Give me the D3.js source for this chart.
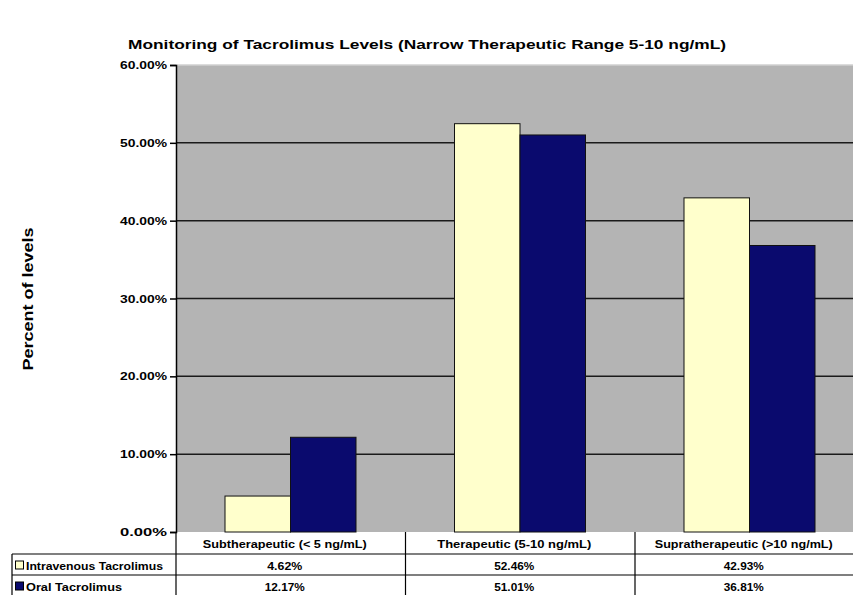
<!DOCTYPE html>
<html>
<head>
<meta charset="utf-8">
<script src="https://cdn.jsdelivr.net/npm/d3@7"></script>
<style>
  body { margin: 0; background: #fff; }
  text { font-family: Arial, "Liberation Sans", sans-serif; font-weight: bold; fill: #000; }
</style>
</head>
<body>
<div id="chart"></div>
<script>
// Data
const categories = ["Subtherapeutic (< 5 ng/mL)", "Therapeutic (5-10 ng/mL)", "Supratherapeutic (>10 ng/mL)"];
const seriesNames = ["Intravenous Tacrolimus", "Oral Tacrolimus"];
const ivValues = [4.62, 52.46, 42.93];
const oralValues = [12.17, 51.01, 36.81];
const yTicks = [0, 10, 20, 30, 40, 50, 60];
const colors = ["#ffffcc", "#0a0a6e"];

const width = 853, height = 595;
const margin = {top: 65, left: 176, bottom: 532};

const svg = d3.select("#chart").append("svg")
    .attr("width", width)
    .attr("height", height);

// Scales
const x = d3.scaleBand()
    .domain(categories)
    .range([176, 864.5])
    .paddingInner(0)
    .paddingOuter(0);

const y = d3.scaleLinear()
    .domain([0, 60])
    .range([532, 65]);

const plotRight = 864.5;

// Plot background
svg.append("rect")
    .attr("x", margin.left)
    .attr("y", y(60))
    .attr("width", plotRight - margin.left)
    .attr("height", y(0) - y(60))
    .attr("fill", "#b4b4b4");

svg.append("line")
    .attr("x1", margin.left).attr("x2", plotRight)
    .attr("y1", y(60)).attr("y2", y(60))
    .attr("stroke", "#d0d0d0").attr("stroke-width", 1.5);

// Gridlines
svg.append("g")
    .selectAll("line")
    .data(yTicks.filter(d => d > 0 && d < 60))
    .enter()
    .append("line")
    .attr("x1", margin.left).attr("x2", plotRight)
    .attr("y1", d => y(d)).attr("y2", d => y(d))
    .attr("stroke", "#1a1a1a")
    .attr("stroke-width", 1.5);

// Y axis
const yAxis = svg.append("g")
    .attr("transform", `translate(${margin.left},0)`)
    .call(d3.axisLeft(y).tickValues(yTicks).tickSize(6).tickPadding(3)
        .tickFormat(d => d.toFixed(2) + "%"));
yAxis.select(".domain").attr("stroke", "#000").attr("stroke-width", 1.5);
yAxis.selectAll(".tick line").attr("stroke", "#000").attr("stroke-width", 1.5);
yAxis.selectAll(".tick text")
    .style("font-size", "11px")
    .attr("textLength", 47)
    .attr("lengthAdjust", "spacingAndGlyphs");

// Bars
const barW = 65.5;
const groups = svg.append("g")
    .selectAll("g")
    .data(categories.map((c, i) => ({cat: c, vals: [ivValues[i], oralValues[i]]})))
    .enter()
    .append("g")
    .attr("transform", d => `translate(${x(d.cat) + 49},0)`);

groups.selectAll("rect")
    .data(d => d.vals)
    .enter()
    .append("rect")
    .attr("x", (d, i) => i * barW)
    .attr("y", d => y(d))
    .attr("width", barW)
    .attr("height", d => y(0) - y(d))
    .attr("fill", (d, i) => colors[i])
    .attr("stroke", "#111")
    .attr("stroke-width", 1);

// Title
svg.append("text")
    .attr("x", 427)
    .attr("y", 49)
    .attr("text-anchor", "middle")
    .style("font-size", "13px")
    .attr("textLength", 598)
    .attr("lengthAdjust", "spacingAndGlyphs")
    .text("Monitoring of Tacrolimus Levels (Narrow Therapeutic Range 5-10 ng/mL)");

// Y label
svg.append("text")
    .attr("transform", "translate(33,299) rotate(-90)")
    .attr("text-anchor", "middle")
    .style("font-size", "15px")
    .attr("textLength", 143)
    .attr("lengthAdjust", "spacingAndGlyphs")
    .text("Percent of levels");

// Data table
const rowY = [532, 554, 575, 595];
const table = svg.append("g");

// horizontal lines
table.append("line").attr("x1", 12).attr("x2", plotRight)
    .attr("y1", rowY[1]).attr("y2", rowY[1]).attr("stroke", "#000").attr("stroke-width", 1.2);
table.append("line").attr("x1", 12).attr("x2", plotRight)
    .attr("y1", rowY[2]).attr("y2", rowY[2]).attr("stroke", "#000").attr("stroke-width", 1.2);
table.append("line").attr("x1", 12).attr("x2", 12)
    .attr("y1", rowY[1]).attr("y2", rowY[3]).attr("stroke", "#000").attr("stroke-width", 1.2);

// vertical column dividers
table.selectAll("line.col")
    .data(categories)
    .enter()
    .append("line")
    .attr("class", "col")
    .attr("x1", d => x(d)).attr("x2", d => x(d))
    .attr("y1", rowY[0]).attr("y2", rowY[3])
    .attr("stroke", "#000").attr("stroke-width", 1.2);

const catWidths = [164, 154, 178];
table.selectAll("text.cat")
    .data(categories)
    .enter()
    .append("text")
    .attr("class", "cat")
    .attr("x", d => x(d) + x.bandwidth() / 2 - 6)
    .attr("y", 548)
    .attr("text-anchor", "middle")
    .style("font-size", "11px")
    .attr("textLength", (d, i) => catWidths[i])
    .attr("lengthAdjust", "spacingAndGlyphs")
    .text(d => d);

const rows = [ivValues, oralValues];
rows.forEach((vals, r) => {
    table.selectAll("text.v" + r)
        .data(vals)
        .enter()
        .append("text")
        .attr("class", "v" + r)
        .attr("x", (d, i) => x(categories[i]) + x.bandwidth() / 2 - 6)
        .attr("y", rowY[r + 1] + 16)
        .attr("text-anchor", "middle")
        .style("font-size", "11px")
        .attr("textLength", d => d >= 10 ? 40 : 35)
        .attr("lengthAdjust", "spacingAndGlyphs")
        .text(d => d.toFixed(2) + "%");

    // legend key
    table.append("rect")
        .attr("x", 15.5)
        .attr("y", rowY[r + 1] + 7)
        .attr("width", 8)
        .attr("height", 8)
        .attr("fill", colors[r])
        .attr("stroke", "#000")
        .attr("stroke-width", 1);

    table.append("text")
        .attr("x", 26)
        .attr("y", rowY[r + 1] + 16)
        .style("font-size", "11px")
        .attr("textLength", r === 0 ? 137 : 96)
        .attr("lengthAdjust", "spacingAndGlyphs")
        .text(seriesNames[r]);
});
</script>
</body>
</html>
